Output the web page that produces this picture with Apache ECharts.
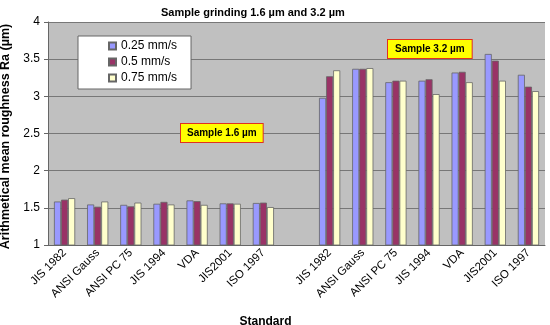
<!DOCTYPE html>
<html>
<head>
<meta charset="utf-8">
<script src="https://cdn.jsdelivr.net/npm/echarts@6/dist/echarts.min.js"></script>
<style>
html,body{margin:0;padding:0;background:#fff;}
#chart{width:550px;height:325px;}
</style>
</head>
<body>
<div id="chart"></div>
<script>
var categories = ['JIS 1982','ANSI Gauss','ANSI PC 75','JIS 1994','VDA','JIS2001','ISO 1997','',
                  'JIS 1982','ANSI Gauss','ANSI PC 75','JIS 1994','VDA','JIS2001','ISO 1997'];
var seriesNames = ['0.25 mm/s','0.5 mm/s','0.75 mm/s'];
var v025 = [1.585,1.545,1.54,1.555,1.60,1.56,1.565,null, 2.98,3.37,3.19,3.21,3.32,3.57,3.29];
var v050 = [1.61,1.515,1.52,1.58,1.59,1.56,1.57,null, 3.27,3.37,3.21,3.23,3.33,3.48,3.13];
var v075 = [1.63,1.585,1.57,1.545,1.54,1.555,1.51,null, 3.35,3.38,3.21,3.03,3.19,3.21,3.07];
var yTicks = {min:1, max:4, interval:0.5};
var colors = ['#9999FF','#993366','#FFFFCC'];

var font = '"Liberation Sans", Arial, sans-serif';
var chart = echarts.init(document.getElementById('chart'), null, {renderer:'canvas'});
function mk(name, data, i){
  return {name:name, type:'bar', data:data, barGap:'0%', barCategoryGap:'36%',
    itemStyle:{color:colors[i], borderColor:'#666', borderWidth:0.8}, silent:true};
}
chart.setOption({
  animation:false,
  textStyle:{fontFamily:font},
  title:{text:'Sample grinding 1.6 \u00b5m and 3.2 \u00b5m', left:156, top:2,
    textStyle:{fontSize:11, fontWeight:'bold', color:'#000', fontFamily:font}},
  grid:{left:48, right:5, top:22, bottom:80, show:true, backgroundColor:'#C0C0C0', borderWidth:0,
    containLabel:false, outerBoundsMode:'none'},
  legend:{orient:'vertical', left:78, top:36, backgroundColor:'#fff', borderColor:'#666', borderWidth:1,
    padding:[4,14,5,30], itemGap:4, itemWidth:7, itemHeight:7, icon:'rect',
    textStyle:{fontSize:12, color:'#000', fontFamily:font}, data:seriesNames},
  xAxis:{type:'category', data:categories, name:'Standard', nameLocation:'middle', nameGap:71,
    nameTextStyle:{fontSize:12, fontWeight:'bold', color:'#000', padding:[0,62,0,0]},
    axisLine:{lineStyle:{color:'#666'}}, axisTick:{lineStyle:{color:'#666'}, length:4},
    axisLabel:{rotate:45, interval:0, fontSize:11.5, color:'#000', margin:6}},
  yAxis:{type:'value', min:yTicks.min, max:yTicks.max, interval:yTicks.interval,
    name:'Arithmetical mean roughness Ra (\u00b5m)', nameLocation:'middle', nameGap:34,
    nameTextStyle:{fontSize:12.5, fontWeight:'bold', color:'#000', padding:[0,0,0,-6]},
    axisLine:{show:true, lineStyle:{color:'#666'}}, axisTick:{show:true, length:4, lineStyle:{color:'#666'}},
    axisLabel:{fontSize:12, color:'#000', margin:8},
    splitLine:{lineStyle:{color:'#777', width:1}}},
  series:[mk(seriesNames[0], v025, 0), mk(seriesNames[1], v050, 1), mk(seriesNames[2], v075, 2)],
  graphic:[
    {type:'text', left:180, top:123, z:100, style:{text:'Sample 1.6 \u00b5m', font:'bold 10px '+font, fill:'#000',
      backgroundColor:'#FFFF00', borderColor:'#E03020', borderWidth:1, padding:[4,6,4,6]}},
    {type:'text', left:387, top:39, z:100, style:{text:'Sample 3.2 \u00b5m', font:'bold 10px '+font, fill:'#000',
      backgroundColor:'#FFFF00', borderColor:'#E03020', borderWidth:1, padding:[4,7,4,7]}}
  ]
});
</script>
</body>
</html>
